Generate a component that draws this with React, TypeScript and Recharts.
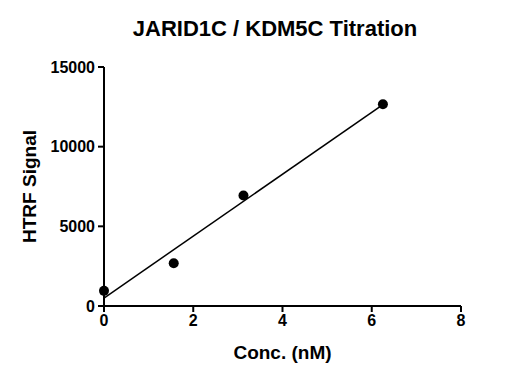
import React from "react";
import {
  ComposedChart,
  Scatter,
  Line,
  XAxis,
  YAxis,
  Label,
} from "recharts";

const concentrations = [0, 1.5625, 3.125, 6.25];
const signals = [950, 2680, 6940, 12660];
const fitX = [0, 6.25];
const fitY = [500, 12640];
const xTicks = [0, 2, 4, 6, 8];
const yTicks = [0, 5000, 10000, 15000];

const points = concentrations.map((c, i) => ({ x: c, y: signals[i] }));
const fitLine = fitX.map((c, i) => ({ x: c, y: fitY[i] }));

const FONT = "'Liberation Sans', Arial, sans-serif";
const tickStyle = { fill: "#000", fontSize: 16, fontWeight: 700, fontFamily: FONT };

export default function App() {
  return (
    <div style={{ position: "absolute", left: 0, top: 0, width: 517, height: 380, background: "#fff" }}>
      <div
        style={{
          position: "absolute",
          left: 0,
          top: 16,
          width: 550,
          textAlign: "center",
          fontFamily: FONT,
          fontWeight: 700,
          fontSize: 22,
          color: "#000",
        }}
      >
        JARID1C / KDM5C Titration
      </div>
      <ComposedChart
        width={517}
        height={380}
        margin={{ top: 67, right: 56, left: 0, bottom: 0 }}
      >
        <XAxis
          type="number"
          dataKey="x"
          domain={[0, 8]}
          ticks={xTicks}
          height={74}
          tickSize={6}
          tickMargin={3}
          tick={tickStyle}
          axisLine={{ stroke: "#000", strokeWidth: 2 }}
          tickLine={{ stroke: "#000", strokeWidth: 2 }}
        >
          <Label
            value="Conc. (nM)"
            position="insideBottom"
            offset={21}
            style={{ fill: "#000", fontSize: 19, fontWeight: 700, fontFamily: FONT }}
          />
        </XAxis>
        <YAxis
          type="number"
          dataKey="y"
          domain={[0, 15000]}
          ticks={yTicks}
          width={104}
          tickSize={6}
          tickMargin={3}
          tick={tickStyle}
          axisLine={{ stroke: "#000", strokeWidth: 2 }}
          tickLine={{ stroke: "#000", strokeWidth: 2 }}
        >
          <Label
            value="HTRF Signal"
            angle={-90}
            position="insideLeft"
            offset={29}
            style={{ fill: "#000", fontSize: 19, fontWeight: 700, fontFamily: FONT, textAnchor: "middle" }}
          />
        </YAxis>
        <Line
          data={fitLine}
          dataKey="y"
          stroke="#000"
          strokeWidth={1.5}
          dot={false}
          activeDot={false}
          isAnimationActive={false}
        />
        <Scatter
          data={points}
          dataKey="y"
          fill="#000"
          shape={(p: any) => <circle cx={p.cx} cy={p.cy} r={5} fill="#000" />}
          isAnimationActive={false}
        />
      </ComposedChart>
    </div>
  );
}
